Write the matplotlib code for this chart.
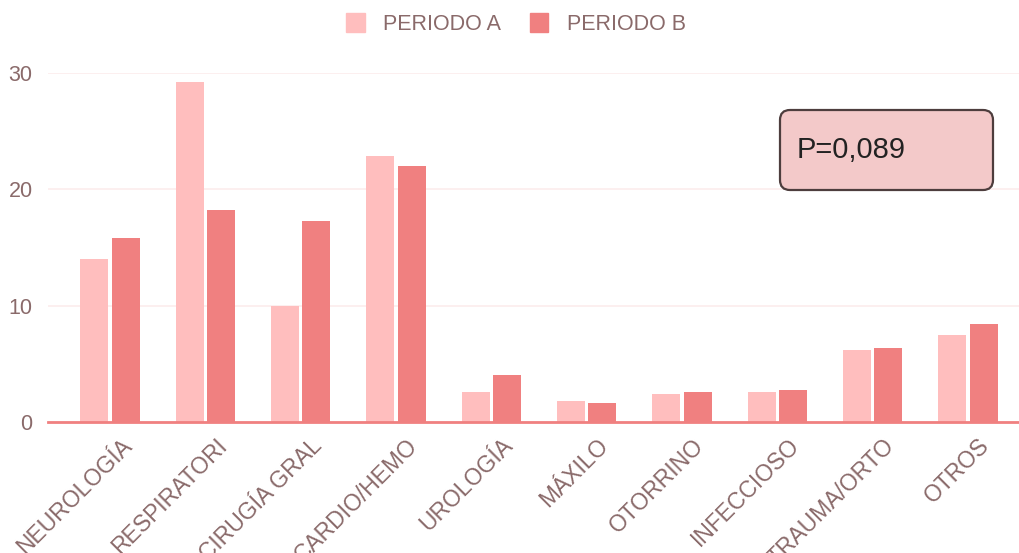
import matplotlib
matplotlib.use("Agg")
import matplotlib.pyplot as plt
import numpy as np
from matplotlib.patches import Patch, FancyBboxPatch
from matplotlib.transforms import IdentityTransform, offset_copy

categorias = ["NEUROLOGÍA", "RESPIRATORI", "CIRUGÍA GRAL", "CARDIO/HEMO", "UROLOGÍA",
              "MÁXILO", "OTORRINO", "INFECCIOSO", "TRAUMA/ORTO", "OTROS"]
periodo_a = [14.0, 29.2, 10.0, 22.9, 2.6, 1.8, 2.4, 2.6, 6.2, 7.5]
periodo_b = [15.8, 18.2, 17.3, 22.0, 4.0, 1.6, 2.6, 2.75, 6.4, 8.4]
yticks = [0, 10, 20, 30]
texto_p = "P=0,089"

col_a = "#FFBEBE"
col_b = "#F08080"
col_txt = "#8a6a6a"

plt.rcParams["font.family"] = ["Liberation Sans", "DejaVu Sans"]

fig = plt.figure(figsize=(10.2, 5.53), dpi=100)
W, H = 1020, 553
ax = fig.add_axes([48 / W, 1 - 422 / H, (1020 - 48) / W, (422 - 73) / H])

x = np.arange(len(categorias))
ancho = 0.294
off = 0.165
ax.bar(x - off, periodo_a, ancho, color=col_a, zorder=3)
ax.bar(x + off, periodo_b, ancho, color=col_b, zorder=3)

ax.set_xlim(-0.65, 9.546)
ax.set_ylim(0, 30)
ax.set_yticks(yticks)
ax.set_yticklabels([str(v) for v in yticks], fontsize=15.5, color=col_txt)
ax.tick_params(axis="y", length=0, pad=11)
ax.grid(axis="y", color="#fcecec", linewidth=1.2, zorder=0)
ax.axhline(0, color=col_b, linewidth=2, zorder=4, clip_on=False)

ax.set_xticks(x)
ax.set_xticklabels([])
ax.tick_params(axis="x", length=0)
for i, c in enumerate(categorias):
    tr = offset_copy(ax.get_xaxis_transform(), fig=fig, x=10, y=-12, units="dots")
    ax.text(i, 0, c, transform=tr, rotation=45, ha="right", va="top",
            rotation_mode="anchor", fontsize=16.5, color=col_txt)

for s in ax.spines.values():
    s.set_visible(False)

handles = [Patch(facecolor=col_a, edgecolor=col_a), Patch(facecolor=col_b, edgecolor=col_b)]
fig.legend(handles, ["PERIODO A", "PERIODO B"], loc="center", bbox_to_anchor=(516 / W, 1 - 24 / H),
           ncol=2, frameon=False, fontsize=15.5, handlelength=0.85, handleheight=0.95,
           handletextpad=0.85, columnspacing=1.35, labelcolor=col_txt)

caja = FancyBboxPatch((780, H - 190), 213, 80, boxstyle="round,pad=0,rounding_size=10",
                      transform=IdentityTransform(), facecolor="#F3C9C9", edgecolor="#4d3d3d",
                      linewidth=1.6)
fig.patches.append(caja)
fig.text(797 / W, 1 - 150 / H, texto_p, va="center", ha="left", fontsize=21, color="#222222")

fig.savefig("out.png", dpi=100)
